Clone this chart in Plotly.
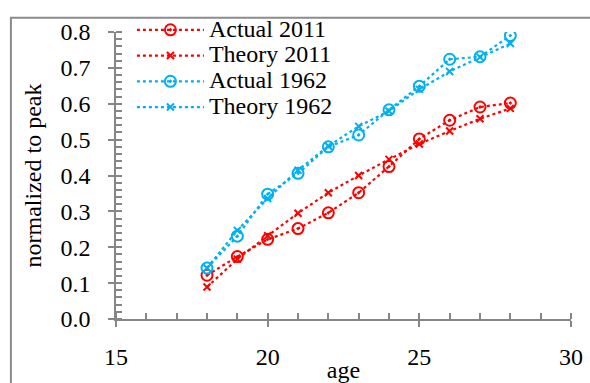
import plotly.graph_objects as go

# Ages and normalized values for each series
ages = [18, 19, 20, 21, 22, 23, 24, 25, 26, 27, 28]
actual_2011 = [0.122, 0.174, 0.222, 0.252, 0.296, 0.352, 0.425, 0.502, 0.554, 0.591, 0.602]
theory_2011 = [0.089, 0.167, 0.232, 0.295, 0.352, 0.400, 0.445, 0.488, 0.524, 0.558, 0.587]
actual_1962 = [0.142, 0.231, 0.348, 0.406, 0.480, 0.513, 0.583, 0.649, 0.724, 0.731, 0.790]
theory_1962 = [0.142, 0.247, 0.336, 0.415, 0.482, 0.537, 0.580, 0.640, 0.690, 0.730, 0.768]

RED = "#FF0000"
BLUE = "#00B0F0"
GRAY = "#868686"
FONT = "Liberation Serif"
FS = 24

series = [
    ("Actual 2011", actual_2011, RED, "circle-open-dot", 11),
    ("Theory 2011", theory_2011, RED, "x-thin-open", 7),
    ("Actual 1962", actual_1962, BLUE, "circle-open-dot", 11),
    ("Theory 1962", theory_1962, BLUE, "x-thin-open", 7),
]

fig = go.Figure()
for name, vals, color, sym, size in series:
    fig.add_trace(go.Scatter(
        x=ages, y=vals,
        # legend rows are spaced by the legend font; the label itself is larger
        name=f'<span style="font-size:{FS}px">{name}</span>',
        mode="lines+markers",
        line=dict(color=color, width=2.2, dash="dot"),
        marker=dict(symbol=sym, size=size, color=color,
                    line=dict(color=color, width=2)),
    ))

# invisible trace carrying the overlay axes (inner half of the major ticks)
fig.add_trace(go.Scatter(x=[15], y=[0], xaxis="x2", yaxis="y2",
                         mode="markers", marker=dict(opacity=0),
                         showlegend=False, hoverinfo="skip"))

axis_common = dict(showgrid=False, zeroline=False, linecolor=GRAY,
                   linewidth=1.5, tickcolor=GRAY, tickwidth=1.5, automargin=False,
                   tickfont=dict(family=FONT, size=FS, color="black"))

fig.update_layout(
    width=590, height=383,
    margin=dict(l=116, r=19, t=23, b=64),
    paper_bgcolor="white", plot_bgcolor="white",
    font=dict(family=FONT, size=FS, color="black"),
    xaxis=dict(range=[15, 30], dtick=5, tick0=15, ticks="outside", ticklen=6,
               ticklabelstandoff=9,
               minor=dict(dtick=1, ticks="inside", ticklen=6,
                          tickcolor=GRAY, tickwidth=1.5),
               title=dict(text="age", font=dict(family=FONT, size=FS), standoff=5),
               showline=True, **axis_common),
    yaxis=dict(range=[0, 0.8], dtick=0.1, tick0=0, ticks="outside", ticklen=6,
               tickformat=".1f", ticklabelstandoff=13,
               minor=dict(dtick=0.02, ticks="inside", ticklen=6,
                          tickcolor=GRAY, tickwidth=1.5),
               title=dict(text="normalized to peak", font=dict(family=FONT, size=FS),
                          standoff=12),
               showline=True, **axis_common),
    xaxis2=dict(overlaying="x", matches="x", range=[15, 30], dtick=5, tick0=15,
                ticks="inside", ticklen=6, tickcolor=GRAY, tickwidth=1.5,
                showticklabels=False, showgrid=False, zeroline=False,
                showline=False, automargin=False),
    yaxis2=dict(overlaying="y", matches="y", range=[0, 0.8], dtick=0.1, tick0=0,
                ticks="inside", ticklen=6, tickcolor=GRAY, tickwidth=1.5,
                showticklabels=False, showgrid=False, zeroline=False,
                showline=False, automargin=False),
    legend=dict(x=0.035, y=1.07, xanchor="left", yanchor="top",
                bgcolor="rgba(0,0,0,0)", font=dict(family=FONT, size=17.5),
                tracegroupgap=0, itemwidth=67),
    showlegend=True,
    shapes=[dict(type="rect", xref="paper", yref="paper",
                 x0=-0.231, x1=1.2, y0=-0.4, y1=1.0496,
                 line=dict(color="#8C8C8C", width=2), layer="below")],
)

fig.write_html("out.html")
